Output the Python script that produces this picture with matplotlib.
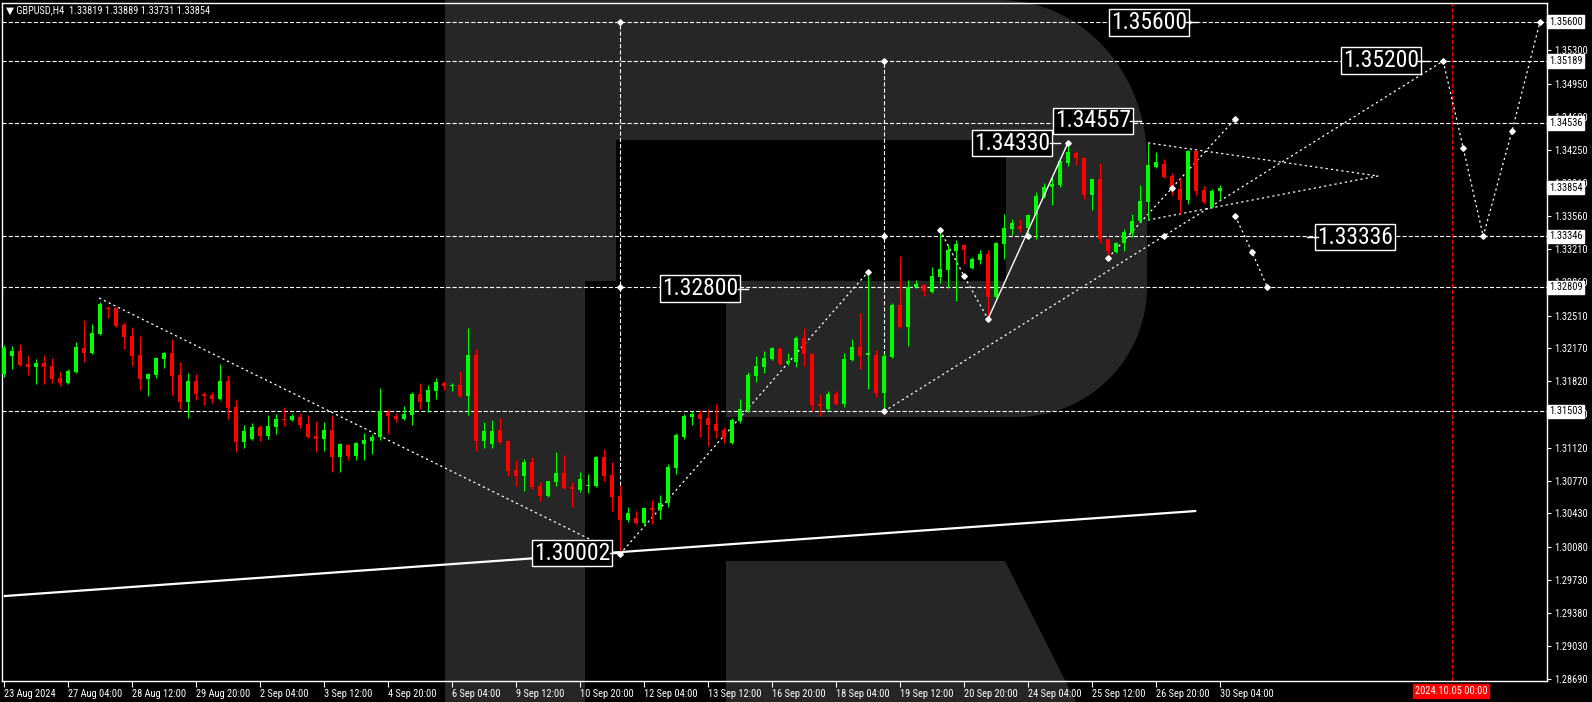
import numpy as np
import matplotlib
matplotlib.use("Agg")
import matplotlib.pyplot as plt
from matplotlib import font_manager
from matplotlib.patches import Polygon

# narrow terminal-like font if one is installed, Liberation Sans otherwise
_names = {f.name for f in font_manager.fontManager.ttflist}
NARROW = next((n for n in ['Liberation Sans Narrow', 'Roboto Condensed', 'Arial Narrow']
               if n in _names), None)
if NARROW:
    FAMILY = [NARROW, 'DejaVu Sans']
    BIG, SMALL = 17, 7.5
else:
    FAMILY = ['Liberation Sans', 'DejaVu Sans']
    BIG, SMALL = 14, 6.5
plt.rcParams['font.family'] = FAMILY
plt.rcParams['lines.scale_dashes'] = False

GREEN = '#00ff00'
RED = '#ff0000'
WATERMARK = '#262626'

# GBPUSD H4 bars, 23 Aug 2024 .. 30 Sep 04:00
opens = [1.31895, 1.32085, 1.32137, 1.32001, 1.31969, 1.32011, 1.31980, 1.31853, 1.31801, 1.31917,
         1.32169, 1.32116, 1.32316, 1.32590, 1.32590, 1.32411, 1.32295, 1.32095, 1.31843, 1.31884,
         1.32053, 1.32116, 1.31884, 1.31601, 1.31822, 1.31685, 1.31675, 1.31633, 1.31822, 1.31548,
         1.31180, 1.31212, 1.31338, 1.31243, 1.31338, 1.31422, 1.31411, 1.31443, 1.31369, 1.31243,
         1.31212, 1.31306, 1.31022, 1.31149, 1.31033, 1.31159, 1.31191, 1.31233, 1.31496, 1.31453,
         1.31422, 1.31464, 1.31685, 1.31601, 1.31717, 1.31801, 1.31769, 1.31780, 1.31664, 1.32095,
         1.31191, 1.31159, 1.31306, 1.31191, 1.30885, 1.30822, 1.30970, 1.30717, 1.30612, 1.30759,
         1.30854, 1.30707, 1.30675, 1.30717, 1.30717, 1.31022, 1.30833, 1.30612, 1.30360, 1.30381,
         1.30328, 1.30486, 1.30465, 1.30538, 1.30907, 1.31233, 1.31443, 1.31474, 1.31432, 1.31369,
         1.31306, 1.31170, 1.31401, 1.31517, 1.31874, 1.31969, 1.32053, 1.32158, 1.32011, 1.32022,
         1.32274, 1.32106, 1.31580, 1.31527, 1.31685, 1.31580, 1.32043, 1.32179, 1.32095, 1.32095,
         1.31696, 1.32074, 1.32621, 1.32390, 1.32811, 1.32832, 1.32758, 1.32916, 1.32990, 1.33190,
         1.33253, 1.33011, 1.33095, 1.33158, 1.32706, 1.33263, 1.33422, 1.33453, 1.33432, 1.33569,
         1.33759, 1.33864, 1.33885, 1.34116, 1.34221, 1.34169, 1.33780, 1.33948, 1.33316, 1.33179,
         1.33274, 1.33380, 1.33506, 1.33706, 1.34074, 1.34106, 1.33980, 1.33843, 1.33727, 1.34242,
         1.33832, 1.33653, 1.33819]
highs = [1.32201, 1.32190, 1.32211, 1.32095, 1.32053, 1.32095, 1.32064, 1.31927, 1.31948, 1.32232,
         1.32464, 1.32421, 1.32653, 1.32611, 1.32600, 1.32442, 1.32390, 1.32295, 1.31906, 1.32074,
         1.32127, 1.32263, 1.32022, 1.31906, 1.31895, 1.31706, 1.31706, 1.32001, 1.31884, 1.31633,
         1.31359, 1.31380, 1.31359, 1.31464, 1.31474, 1.31548, 1.31474, 1.31485, 1.31464, 1.31401,
         1.31390, 1.31464, 1.31170, 1.31159, 1.31180, 1.31275, 1.31264, 1.31748, 1.31527, 1.31485,
         1.31559, 1.31706, 1.31801, 1.31780, 1.31853, 1.31822, 1.31801, 1.31927, 1.32379, 1.32158,
         1.31390, 1.31411, 1.31432, 1.31201, 1.30991, 1.31001, 1.31022, 1.30759, 1.30770, 1.31075,
         1.31043, 1.30759, 1.30864, 1.30843, 1.31033, 1.31106, 1.30970, 1.30728, 1.30496, 1.30454,
         1.30496, 1.30570, 1.30622, 1.30949, 1.31275, 1.31474, 1.31506, 1.31517, 1.31527, 1.31580,
         1.31338, 1.31432, 1.31633, 1.31917, 1.32085, 1.32137, 1.32179, 1.32179, 1.32116, 1.32295,
         1.32379, 1.32116, 1.31685, 1.31717, 1.31717, 1.32116, 1.32263, 1.32537, 1.32969, 1.32148,
         1.32116, 1.32642, 1.33137, 1.32885, 1.32885, 1.32843, 1.33021, 1.33411, 1.33253, 1.33306,
         1.33263, 1.33127, 1.33200, 1.33200, 1.33285, 1.33580, 1.33527, 1.33527, 1.33580, 1.33811,
         1.33906, 1.33980, 1.34158, 1.34330, 1.34242, 1.34179, 1.33948, 1.34116, 1.33316, 1.33285,
         1.33422, 1.33580, 1.33885, 1.34327, 1.34232, 1.34158, 1.34011, 1.33959, 1.34253, 1.34253,
         1.33874, 1.33843, 1.33889]
lows = [1.31864, 1.31948, 1.31980, 1.31884, 1.31790, 1.31790, 1.31801, 1.31769, 1.31790, 1.31906,
        1.32022, 1.32106, 1.32306, 1.32484, 1.32390, 1.32158, 1.31980, 1.31727, 1.31664, 1.31853,
        1.31959, 1.31675, 1.31527, 1.31432, 1.31622, 1.31569, 1.31590, 1.31622, 1.31422, 1.31075,
        1.31117, 1.31201, 1.31191, 1.31212, 1.31264, 1.31348, 1.31401, 1.31327, 1.31222, 1.31075,
        1.31085, 1.30864, 1.30864, 1.30991, 1.30991, 1.30991, 1.31054, 1.31201, 1.31264, 1.31390,
        1.31411, 1.31359, 1.31527, 1.31496, 1.31633, 1.31727, 1.31717, 1.31654, 1.31464, 1.31085,
        1.31117, 1.31117, 1.31170, 1.30822, 1.30717, 1.30665, 1.30686, 1.30559, 1.30601, 1.30717,
        1.30686, 1.30496, 1.30654, 1.30643, 1.30707, 1.30770, 1.30454, 1.30002, 1.30339, 1.30318,
        1.30307, 1.30318, 1.30370, 1.30496, 1.30843, 1.31212, 1.31359, 1.31233, 1.31138, 1.31222,
        1.31170, 1.31159, 1.31380, 1.31496, 1.31811, 1.31906, 1.32043, 1.31990, 1.31990, 1.31969,
        1.31980, 1.31506, 1.31453, 1.31506, 1.31569, 1.31548, 1.32032, 1.31948, 1.31738, 1.31654,
        1.31503, 1.32064, 1.32379, 1.32190, 1.32801, 1.32716, 1.32748, 1.32853, 1.32801, 1.32663,
        1.33053, 1.33000, 1.33053, 1.32474, 1.32695, 1.33106, 1.33358, 1.33390, 1.33358, 1.33316,
        1.33748, 1.33674, 1.33864, 1.34084, 1.34095, 1.33738, 1.33622, 1.33274, 1.33116, 1.33169,
        1.33190, 1.33337, 1.33495, 1.33516, 1.34064, 1.33959, 1.33780, 1.33580, 1.33685, 1.33780,
        1.33685, 1.33643, 1.33731]
closes = [1.32169, 1.32137, 1.31990, 1.31969, 1.32011, 1.31969, 1.31843, 1.31801, 1.31927, 1.32179,
          1.32116, 1.32327, 1.32632, 1.32579, 1.32400, 1.32284, 1.32085, 1.31843, 1.31895, 1.32064,
          1.32116, 1.31874, 1.31601, 1.31822, 1.31685, 1.31664, 1.31633, 1.31822, 1.31538, 1.31180,
          1.31296, 1.31338, 1.31243, 1.31348, 1.31422, 1.31411, 1.31453, 1.31359, 1.31233, 1.31212,
          1.31306, 1.31022, 1.31159, 1.31033, 1.31170, 1.31201, 1.31233, 1.31506, 1.31453, 1.31422,
          1.31474, 1.31685, 1.31601, 1.31727, 1.31811, 1.31769, 1.31780, 1.31664, 1.32095, 1.31191,
          1.31296, 1.31296, 1.31180, 1.30875, 1.30822, 1.30970, 1.30707, 1.30612, 1.30770, 1.30854,
          1.30696, 1.30686, 1.30791, 1.30728, 1.31022, 1.30822, 1.30601, 1.30360, 1.30433, 1.30328,
          1.30486, 1.30465, 1.30538, 1.30917, 1.31254, 1.31453, 1.31474, 1.31422, 1.31359, 1.31296,
          1.31222, 1.31411, 1.31527, 1.31884, 1.31980, 1.32064, 1.32169, 1.32001, 1.32032, 1.32274,
          1.32106, 1.31569, 1.31559, 1.31685, 1.31580, 1.32053, 1.32179, 1.32085, 1.32116, 1.31696,
          1.32085, 1.32621, 1.32390, 1.32811, 1.32843, 1.32769, 1.32927, 1.33000, 1.33200, 1.33263,
          1.33200, 1.33106, 1.33158, 1.32706, 1.33274, 1.33432, 1.33485, 1.33422, 1.33569, 1.33769,
          1.33864, 1.33896, 1.34137, 1.34232, 1.34169, 1.33780, 1.33948, 1.33316, 1.33190, 1.33274,
          1.33390, 1.33506, 1.33716, 1.34095, 1.34127, 1.33969, 1.33843, 1.33727, 1.34242, 1.33822,
          1.33706, 1.33822, 1.33854]

date_labels = ["23 Aug 2024", "27 Aug 04:00", "28 Aug 12:00", "29 Aug 20:00", "2 Sep 04:00",
               "3 Sep 12:00", "4 Sep 20:00", "6 Sep 04:00", "9 Sep 12:00", "10 Sep 20:00",
               "12 Sep 04:00", "13 Sep 12:00", "16 Sep 20:00", "18 Sep 04:00", "19 Sep 12:00",
               "20 Sep 20:00", "24 Sep 04:00", "25 Sep 12:00", "26 Sep 20:00", "30 Sep 04:00"]
price_ticks = [1.35300, 1.34950, 1.34600, 1.34250, 1.33910, 1.33560, 1.33210, 1.32860, 1.32510,
               1.32170, 1.31820, 1.31470, 1.31120, 1.30770, 1.30430, 1.30080, 1.29730, 1.29380,
               1.29030, 1.28690]

levels = [1.35600, 1.35189, 1.34536, 1.33346, 1.32809, 1.31503]
last_price = 1.33854
future_bar = 181            # 2024.10.05 00:00

# analysis objects: (bar, price)
support_line = [(0.1, 1.29560), (148.9, 1.30454)]
swing_lines = [
    [(11.9, 1.32695), (77, 1.30002)],
    [(77, 1.30002), (108, 1.32969)],
    [(117, 1.33411), (120, 1.32927), (123, 1.32474)],
    [(110, 1.31503), (179.9, 1.35189)],
    [(138, 1.33116), (146, 1.33853), (153.9, 1.34580)],
    [(143, 1.34327), (171.75, 1.33979), (143, 1.33516)],
    [(153.9, 1.33558), (156, 1.33180), (157.9, 1.32811)],
    [(179.9, 1.35189), (182.4, 1.34274), (184.9, 1.33346), (188.5, 1.34453), (192, 1.35600)],
]
target_verticals = [(77, 1.30002, 1.35600), (110, 1.31503, 1.35189)]
wave_line = [(123, 1.32474), (133, 1.34330)]
markers = [(77, 1.35600), (77, 1.32809), (77, 1.30002), (110, 1.35189), (110, 1.33346),
           (110, 1.31503), (108, 1.32969), (117, 1.33411), (120, 1.32927), (123, 1.32474),
           (128, 1.33346), (133, 1.34330), (138, 1.33116), (145, 1.33346), (146, 1.33853),
           (153.9, 1.34580), (153.9, 1.33558), (156, 1.33180), (157.9, 1.32811), (164.1, 1.33337),
           (179.9, 1.35189), (182.4, 1.34274), (184.9, 1.33346), (188.5, 1.34453), (192, 1.35600),
           (148.0, 1.35600), (140.8, 1.34557)]
# price labels: text, centre bar, centre price, connector side
price_labels = [("1.35600", 143.1, 1.35595, 'r'), ("1.35200", 172.1, 1.35194, 'r'),
                ("1.34557", 136.1, 1.34558, 'r'), ("1.34330", 126.0, 1.34326, 'r'),
                ("1.32800", 87.0, 1.32795, 'r'), ("1.33336", 168.9, 1.33337, 'l'),
                ("1.30002", 71.0, 1.30012, 'r')]

W, H = 1592, 702
fig = plt.figure(figsize=(W / 100, H / 100), dpi=100, facecolor='black')

# watermark "R" behind everything
bg = fig.add_axes([0, 0, 1, 1], zorder=0)
bg.set_xlim(0, W)
bg.set_ylim(H, 0)
bg.axis('off')
t = np.linspace(0, np.pi / 2, 40)
top_arc = np.column_stack([1000 + 147 * np.sin(t), 160 - 160 * np.cos(t)])
bot_arc = np.column_stack([1017 + 130 * np.cos(t), 287 + 130 * np.sin(t)])
bowl = np.vstack([[445, 0], top_arc, bot_arc, [445, 417]])
bg.add_patch(Polygon(bowl, closed=True, fc=WATERMARK, ec='none'))
bg.add_patch(Polygon([[445, 0], [585, 0], [585, H], [445, H]], fc=WATERMARK, ec='none'))
bg.add_patch(Polygon([[616, 140], [1006, 140], [1006, 281], [726, 281], [726, 417],
                      [585, 417], [585, 281], [616, 281]], fc='black', ec='none'))
bg.add_patch(Polygon([[726, 561], [1005, 561], [1076, H], [726, H]], fc=WATERMARK, ec='none'))

ax = fig.add_axes([2 / W, 21 / H, 1545 / W, 678 / H], zorder=1)
ax.set_facecolor('none')
ax.set_xlim(-0.25, 192.875)
ax.set_ylim(1.28666, 1.35799)
for s in ax.spines.values():
    s.set_color('white')
    s.set_linewidth(1)

DASH = (0, (3, 1.5))
DOT = (0, (1.6, 2.2))

for lv in levels:
    ax.axhline(lv, color='white', lw=0.8, ls=DASH, zorder=2)
ax.axvline(future_bar, color='red', lw=0.8, ls=DASH, zorder=2)

for xv, y0, y1 in target_verticals:
    ax.plot([xv, xv], [y0, y1], color='white', lw=0.8, ls=DASH, zorder=2)

sx, sy = zip(*support_line)
ax.plot(sx, sy, color='white', lw=1.6, zorder=2)
for seg in swing_lines:
    px, py = zip(*seg)
    ax.plot(px, py, color='white', lw=0.9, ls=DOT, zorder=2)
wx, wy = zip(*wave_line)
ax.plot(wx, wy, color='white', lw=1.0, zorder=4)

# candles
o = np.array(opens)
h = np.array(highs)
l = np.array(lows)
c = np.array(closes)
x = np.arange(len(o))
cols = np.where(c >= o, GREEN, RED)
ax.vlines(x, l, h, colors=cols, lw=0.75, zorder=3)
body = np.maximum(np.abs(c - o), 0.00011)
ax.bar(x, body, bottom=np.minimum(o, c), width=0.62, color=cols, linewidth=0, zorder=3)

mx, my = zip(*markers)
ax.plot(mx, my, ls='none', marker='D', ms=2.8, color='white', mec='white', zorder=5)

for txt, bx, by, side in price_labels:
    ax.text(bx, by, txt, color='white', fontsize=BIG, ha='center', va='center', zorder=6,
            bbox=dict(boxstyle='square,pad=0.08', fc='black', ec='white', lw=1))
    if side == 'r':
        ax.plot([bx + 4.7, bx + 6.0], [by, by], color='white', lw=1, zorder=6)
    else:
        ax.plot([bx - 6.0, bx - 4.7], [by, by], color='white', lw=1, zorder=6)

# price axis
ax.yaxis.tick_right()
ax.set_yticks(price_ticks)
ax.set_yticklabels([f"{v:.5f}" for v in price_ticks])
ax.tick_params(axis='y', colors='white', direction='out', length=3, width=0.8,
               labelsize=SMALL, pad=2)
ytr = ax.get_yaxis_transform()
for v in levels + [last_price]:
    ax.text(1.0013, v, f"{v:.5f}", transform=ytr, color='black', fontsize=SMALL,
            ha='left', va='center', zorder=7,
            bbox=dict(boxstyle='square,pad=0.15', fc='white', ec='white'))

# time axis
ax.set_xticks(np.arange(0, len(o), 8))
ax.set_xticklabels(date_labels)
ax.tick_params(axis='x', colors='white', direction='out', length=4, width=0.8,
               labelsize=SMALL, pad=2)
for lbl in ax.get_xticklabels():
    lbl.set_ha('left')

fig.text(1451 / W, 1 - 691 / H, "2024.10.05 00:00", color='white', fontsize=SMALL,
         ha='center', va='center', bbox=dict(boxstyle='square,pad=0.2', fc='red', ec='red'))
fig.text(6 / W, 1 - 10 / H, "\u25bc GBPUSD,H4  1.33819 1.33889 1.33731 1.33854",
         color='white', fontsize=SMALL, ha='left', va='center')

fig.savefig("out.png", dpi=100, facecolor='black')
